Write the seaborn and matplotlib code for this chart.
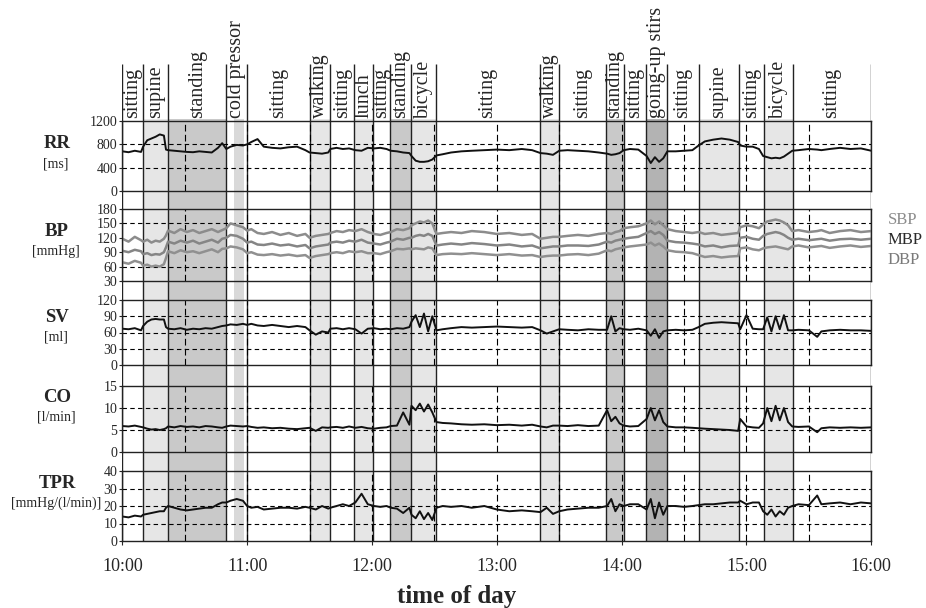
import matplotlib
matplotlib.use("Agg")
import matplotlib.pyplot as plt
import pandas as pd
import seaborn as sns

# Activity periods (minutes after 10:00)
ev_start = [0, 10, 22, 50, 60, 90, 100, 111.5, 120.7, 128.7, 138.7, 150.7, 200.8, 210,
            232.4, 241, 251.6, 261.7, 277, 296.6, 308.2, 322.3]
ev_end = ev_start[1:] + [360]
ev_label = ["sitting", "supine", "standing", "cold pressor", "sitting", "walking", "sitting",
            "lunch", "sitting", "standing", "bicycle", "sitting", "walking", "sitting",
            "standing", "sitting", "going-up stirs", "sitting", "supine", "sitting",
            "bicycle", "sitting"]

# Shaded periods
shade_start = [10, 22, 53.7, 90, 111.5, 128.7, 138.7, 200.8, 232.4, 251.6, 277, 308.2]
shade_end = [22, 50, 58.5, 100, 120.7, 138.7, 150.7, 210, 241, 261.7, 296.6, 322.3]
shade_tone = ["light", "dark", "mid", "light", "light", "dark", "light", "light", "dark",
              "darkest", "light", "light"]

# Time grid (minutes after 10:00), one line per activity period
t_min = [0, 3, 6, 9,
         10, 12, 14, 16, 18, 20, 21,
         22, 25, 28, 31, 34, 37, 40, 43, 46, 48,
         50, 52, 55, 58,
         60, 62, 65, 68, 72, 76, 80, 84, 88,
         90, 93, 96, 99,
         100, 103, 106, 109,
         112, 115, 118,
         121, 124, 127,
         129, 132, 135, 138,
         139, 141, 143, 145, 147, 149,
         151, 154, 158, 163, 168, 174, 180, 186, 192, 197,
         201, 204, 207,
         210, 214, 219, 224, 229,
         233, 235, 237, 239,
         241, 244, 248,
         252, 254, 256, 258, 260,
         262, 266, 270, 274,
         277, 280, 284, 288, 292, 296,
         297, 300, 303, 306,
         308, 310, 312, 314, 316, 318, 320,
         322, 325, 330, 334, 336, 340, 345, 350, 355, 360]

rr = [680, 665, 690, 670,
      760, 870, 900, 930, 970, 950, 710,
      700, 690, 680, 670, 665, 680, 670, 660, 740, 820,
      720, 760, 790, 780,
      800, 840, 890, 760, 740, 730, 750, 760, 700,
      660, 650, 640, 660,
      720, 740, 720, 730,
      700, 690, 740,
      730, 740, 720,
      690, 680, 660, 650,
      600, 520, 500, 500, 510, 540,
      610, 630, 660, 680, 690, 700, 710, 700, 720, 700,
      650, 640, 620,
      690, 700, 690, 680, 660,
      640, 620, 630, 650,
      700, 720, 710,
      600, 480, 580, 500, 560,
      680, 680, 690, 700,
      780, 850, 880, 900, 880, 840,
      780, 760, 760, 720,
      600, 580, 560, 570, 560, 590, 640,
      690, 700, 720, 710, 700, 720, 740, 720, 730, 690]

sbp = [118, 112, 122, 115,
       112, 116, 110, 114, 112, 118, 125,
       135, 130, 138, 132, 136, 130, 134, 138, 132, 136,
       140, 150, 146, 142,
       135, 138, 130, 128, 132, 126, 130, 124, 128,
       120, 124, 126, 128,
       130, 134, 132, 136,
       134, 138, 132,
       128, 126, 130,
       132, 138, 136, 140,
       146, 150, 154, 152, 156, 150,
       128, 130, 132, 130, 134, 132, 128, 130, 126, 128,
       118, 120, 122,
       122, 124, 126, 124, 128,
       130, 128, 132, 134,
       140, 142, 144,
       150, 156, 148, 154, 146,
       138, 134, 132, 130,
       132, 128, 130, 126, 128, 130,
       142, 146, 144, 140,
       148, 154, 156, 158, 156, 152, 146,
       134, 136, 132, 134, 136, 130, 134, 136, 132, 134]

mbp = [93, 90, 95, 92,
       86, 88, 84, 86, 85, 90, 100,
       112, 108, 114, 110, 114, 108, 112, 116, 110, 118,
       120, 126, 124, 118,
       110, 112, 106, 105, 108, 104, 106, 102, 105,
       98, 102, 104, 106,
       110, 112, 110, 114,
       112, 116, 110,
       108, 106, 110,
       112, 118, 116, 120,
       120, 124, 126, 124, 128, 124,
       104, 106, 108, 106, 109, 107, 104, 106, 102, 104,
       98, 100, 102,
       102, 104, 104, 103, 106,
       112, 110, 114, 116,
       118, 120, 122,
       130, 134, 128, 132, 126,
       114, 111, 110, 108,
       106, 102, 104, 100, 103, 104,
       120, 122, 118, 116,
       124, 128, 130, 132, 130, 126, 120,
       116, 118, 115, 117, 118, 114, 117, 118, 116, 118]

dbp = [69, 66, 72, 68,
       62, 64, 60, 62, 60, 65, 78,
       92, 88, 94, 90, 92, 88, 92, 96, 90, 97,
       98, 102, 100, 96,
       88, 90, 85, 84, 86, 83, 85, 82, 84,
       78, 82, 84, 86,
       88, 90, 88, 92,
       90, 92, 88,
       88, 86, 90,
       92, 97, 96, 98,
       96, 98, 97, 96, 100, 98,
       84, 86, 87, 86, 88, 86, 84, 86, 83, 84,
       80, 82, 83,
       83, 85, 86, 84, 87,
       94, 92, 96, 98,
       100, 102, 104,
       106, 110, 104, 108, 102,
       94, 91, 90, 88,
       84, 80, 82, 79, 81, 82,
       98, 100, 96, 94,
       98, 100, 101, 102, 100, 98, 96,
       102, 104, 100, 102, 103, 99, 102, 104, 101, 103]

sv = [67, 66, 68, 64,
      72, 80, 84, 85, 84, 84, 70,
      67, 66, 68, 65, 67, 66, 68, 67, 70, 72,
      73, 75, 74, 76,
      74, 76, 73, 72, 74, 72, 70, 72, 70,
      64, 56, 62, 60,
      67, 68, 66, 68,
      66, 58, 67,
      68, 66, 67,
      66, 68, 67, 70,
      80, 92, 70, 95, 62, 90,
      64, 66, 68, 70, 69, 70, 71, 70, 69, 70,
      64, 58, 62,
      66, 65, 64, 66, 65,
      65, 90, 62, 68,
      66, 65, 67,
      64, 54, 66, 50, 62,
      64, 65, 64, 65,
      70, 76, 78, 79, 78, 77,
      66, 92, 67, 66,
      66, 88, 62, 90, 66, 92, 64,
      64, 65, 64, 52, 62, 64, 65, 64, 64, 63]

co = [5.9, 5.8, 6.0, 5.7,
      5.6, 5.3, 5.1, 5.2, 5.0, 5.2, 5.4,
      5.8, 5.6, 5.9, 5.7, 5.8, 5.6, 5.9, 5.8, 5.6, 5.5,
      5.8, 6.0, 5.9, 5.8,
      5.9, 5.7, 5.5, 5.6, 5.4, 5.5, 5.3, 5.2, 5.4,
      5.5, 4.8, 5.6, 5.5,
      5.6, 5.7, 5.5, 5.8,
      5.5, 5.7, 5.4,
      5.3, 5.5, 5.6,
      5.9, 6.0, 9.0, 6.2,
      10.5, 9.5, 11.0, 9.2, 10.8, 9.0,
      6.8, 6.6, 6.5, 6.3, 6.2, 6.3, 6.1, 6.2, 6.0, 6.2,
      5.8, 5.6, 6.0,
      6.0, 5.9, 6.1, 5.9, 6.0,
      9.5, 7.0, 8.0, 6.5,
      6.0, 5.8, 5.9,
      7.5, 10.0, 7.2, 9.5, 6.8,
      5.8, 5.6, 5.6, 5.5,
      5.4, 5.3, 5.2, 5.1, 5.0, 4.8,
      7.5, 5.8, 5.6, 5.5,
      6.5, 10.0, 7.0, 10.5, 7.2, 10.0, 6.8,
      5.8, 5.7, 5.8, 4.5, 5.4, 5.6, 5.5, 5.6, 5.5, 5.6]

tpr = [14, 13.5, 14.5, 14,
       15, 15.5, 16, 16.5, 17, 17, 19,
       20, 19, 18, 17.5, 18, 18.5, 19, 19, 21, 22,
       22, 23, 24, 23,
       20, 19, 19.5, 18, 18.5, 19, 19, 18.5, 19.5,
       19, 18, 20, 18.5,
       19, 20, 21, 20,
       22, 27, 21,
       20, 19.5, 20,
       19, 18.5, 16, 19,
       15, 13, 17, 12.5, 16, 12,
       19, 20, 19.5, 20, 19, 20, 18, 17, 17.5, 17,
       16.5, 19, 15.5,
       17, 18, 18.5, 19, 19,
       20, 24, 17, 21,
       20, 21, 21,
       18, 24, 13, 22, 15,
       20, 20, 19.5, 20,
       20.5, 21, 21, 21.5, 22, 22,
       23, 21, 22, 22,
       17, 15, 18, 14, 17, 15, 19,
       20, 21, 20.5, 26, 21, 21.5, 22, 21, 22, 21.5]

hour_labels = ["10:00", "11:00", "12:00", "13:00", "14:00", "15:00", "16:00"]

df = pd.DataFrame({"t": t_min, "RR": rr, "SBP": sbp, "MBP": mbp, "DBP": dbp,
                   "SV": sv, "CO": co, "TPR": tpr})

sns.set_style("white")
plt.rcParams["font.family"] = ["Liberation Serif", "DejaVu Serif"]

W, H = 926, 608
X0, X1 = 122.3, 871.3
fig = plt.figure(figsize=(W / 100, H / 100), dpi=100)

def fig_rect(top, bottom):
	return [X0 / W, 1 - bottom / H, (X1 - X0) / W, (bottom - top) / H]

# Background: shading, separators and activity labels
bg = fig.add_axes(fig_rect(64, 541))
bg.set_xlim(0, 360)
bg.set_ylim(541, 64)
bg.axis("off")
tones = {"light": "#e6e6e6", "mid": "#d9d9d9", "dark": "#c9c9c9", "darkest": "#b3b3b3"}
for s, e, tone in zip(shade_start, shade_end, shade_tone):
	bg.fill_between([s, e], 541, 119, color=tones[tone], lw=0)
bg.vlines(ev_start + [360], 541, 64, color="#222222", lw=1)
for s, e, lab in zip(ev_start, ev_end, ev_label):
	bg.text((s + e) / 2, 118, lab, rotation=90, ha="center", va="bottom", fontsize=14.5)

# Panels: name, unit, top px, bottom px, ylim, ticks, dashed lines, label y
panels = [
	("RR", "[ms]", 121, 191, (0, 1200), [0, 400, 800, 1200], [400, 800], 144),
	("BP", "[mmHg]", 209, 281, (30, 180), [30, 60, 90, 120, 150, 180], [60, 150], 232),
	("SV", "[ml]", 300, 365, (0, 120), [0, 30, 60, 90, 120], [30, 60, 90], 317),
	("CO", "[l/min]", 386, 452, (0, 15), [0, 5, 10, 15], [5, 10], 397),
	("TPR", "[mmHg/(l/min)]", 471, 541, (0, 40), [0, 10, 20, 30, 40], [10, 20, 30], 483),
]

for i, (name, unit, top, bottom, ylim, ticks, dashed, ly) in enumerate(panels):
	ax = fig.add_axes(fig_rect(top, bottom))
	ax.patch.set_alpha(0)
	for h in dashed:
		ax.axhline(h, color="k", lw=0.8, ls=(0, (4, 3)), zorder=1)
	for v in range(30, 360, 30):
		ax.axvline(v, color="k", lw=0.8, ls=(0, (6, 3)), zorder=1)
	if name == "BP":
		sns.lineplot(data=df, x="t", y="SBP", ax=ax, color="#8c8c8c", lw=1.8, estimator=None)
		sns.lineplot(data=df, x="t", y="MBP", ax=ax, color="#858585", lw=1.8, estimator=None)
		sns.lineplot(data=df, x="t", y="DBP", ax=ax, color="#909090", lw=1.8, estimator=None)
	else:
		sns.lineplot(data=df, x="t", y=name, ax=ax, color="#111111", lw=1.4, estimator=None)
	ax.set_xlim(0, 360)
	ax.set_ylim(*ylim)
	ax.set_yticks(ticks)
	ax.set_xlabel("")
	ax.set_ylabel("")
	ax.tick_params(axis="y", length=2, width=0.8, pad=1.5, labelsize=10, left=True)
	for sp in ax.spines.values():
		sp.set_color("#222222")
		sp.set_linewidth(1)
		sp.set_visible(True)
	if i == len(panels) - 1:
		ax.set_xticks(range(0, 361, 60))
		ax.set_xticklabels(hour_labels)
		ax.tick_params(axis="x", length=3, width=0.8, pad=9, labelsize=13, bottom=True)
	else:
		ax.set_xticks([])
	fig.text(57 / W, 1 - ly / H, name, ha="center", va="center", fontsize=13.5, fontweight="bold")
	fig.text(56 / W, 1 - (ly + 20) / H, unit, ha="center", va="center", fontsize=10)

# BP legend text on the right
fig.text(888 / W, 1 - 220 / H, "SBP", ha="left", va="center", fontsize=12, color="#8c8c8c")
fig.text(888 / W, 1 - 240 / H, "MBP", ha="left", va="center", fontsize=12, color="#2a2a2a")
fig.text(888 / W, 1 - 260 / H, "DBP", ha="left", va="center", fontsize=12, color="#7a7a7a")

fig.text(457 / W, 1 - 596 / H, "time of day", ha="center", va="center", fontsize=18, fontweight="bold")

fig.savefig("out.png", dpi=100)
